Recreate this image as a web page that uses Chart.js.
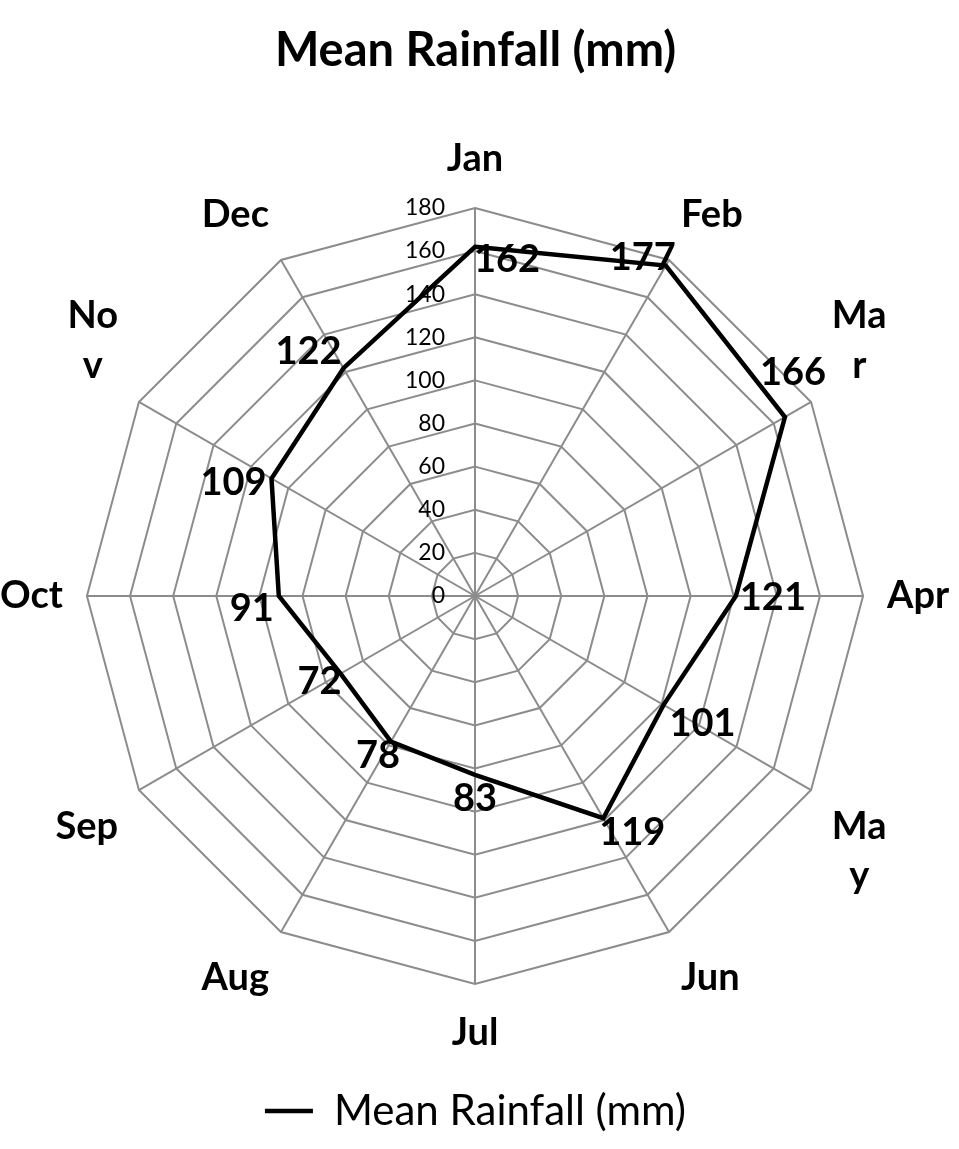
<!DOCTYPE html>
<html>
<head>
<meta charset="utf-8">
<script src="https://cdn.jsdelivr.net/npm/chart.js@4.4.1/dist/chart.umd.min.js"></script>
<style>
  html, body { margin: 0; padding: 0; background: #ffffff; }
  #wrap { width: 959px; height: 1149px; position: relative; }
</style>
</head>
<body>
<div id="wrap"><canvas id="c" width="959" height="1149"></canvas></div>
<script>
// ---- data ----
const categories = ['Jan', 'Feb', ['Ma', 'r'], 'Apr', ['Ma', 'y'], 'Jun', 'Jul', 'Aug', 'Sep', 'Oct', ['No', 'v'], 'Dec'];
const rainfall = [162, 177, 166, 121, 101, 119, 83, 78, 72, 91, 109, 122];
const tickValues = [0, 20, 40, 60, 80, 100, 120, 140, 160, 180];
const seriesName = 'Mean Rainfall (mm)';
const chartTitle = 'Mean Rainfall (mm)';

// label placement offsets (style, relative to each point)
const labelDX = [32, -23, 8, 37, 39, 29, 0, -13, -21, -27, -38, -35];
const labelDY = [13, -8, -44, 2, 19, 15, 24, 14, 8, 13, 4, -16];

const FONT = 'Lato, "Open Sans", sans-serif';
const PL_SIZE = 38;
const PL_LH = 1.3;

const dataLabelPlugin = {
  id: 'dataLabels',
  afterDatasetsDraw(chart) {
    const ctx = chart.ctx;
    const meta = chart.getDatasetMeta(0);
    ctx.save();
    ctx.font = 'bold 38px ' + FONT;
    ctx.fillStyle = '#000';
    ctx.textAlign = 'center';
    ctx.textBaseline = 'middle';
    meta.data.forEach((pt, i) => {
      ctx.fillText(String(rainfall[i]), pt.x + labelDX[i], pt.y + labelDY[i]);
    });
    ctx.restore();
  }
};

// draws tick values left of the vertical axis, and centred point labels
const textPlugin = {
  id: 'texts',
  afterDraw(chart) {
    const s = chart.scales.r;
    const ctx = chart.ctx;
    ctx.save();
    ctx.font = '23px ' + FONT;
    ctx.fillStyle = '#000';
    ctx.textAlign = 'right';
    ctx.textBaseline = 'middle';
    tickValues.forEach(v => {
      const d = s.getDistanceFromCenterForValue(v);
      ctx.fillText(String(v), s.xCenter - 30, s.yCenter - d);
    });
    ctx.font = 'bold ' + PL_SIZE + 'px ' + FONT;
    ctx.textAlign = 'center';
    ctx.textBaseline = 'middle';
    const lh = PL_SIZE * PL_LH;
    categories.forEach((c, i) => {
      const p = s.getPointLabelPosition(i);
      const lines = Array.isArray(c) ? c : [c];
      const cx = (p.left + p.right) / 2;
      lines.forEach((t, j) => {
        ctx.fillText(t, cx, p.top + lh * (j + 0.5));
      });
    });
    ctx.restore();
  }
};

new Chart(document.getElementById('c'), {
  type: 'radar',
  data: {
    labels: categories,
    datasets: [{
      label: seriesName,
      data: rainfall,
      borderColor: '#000000',
      backgroundColor: 'rgba(0,0,0,0)',
      borderWidth: 4.5,
      pointRadius: 0,
      pointHoverRadius: 0,
      fill: false,
      tension: 0
    }]
  },
  options: {
    responsive: false,
    animation: false,
    events: [],
    layout: { padding: { top: 0, bottom: 7, left: 0, right: 8 } },
    plugins: {
      title: {
        display: true,
        text: chartTitle,
        color: '#000',
        font: { family: FONT, size: 47, weight: 'bold' },
        padding: { top: 23, bottom: 50 }
      },
      legend: {
        display: true,
        position: 'bottom',
        labels: {
          color: '#000',
          font: { family: FONT, size: 42 },
          usePointStyle: true,
          pointStyle: 'line',
          pointStyleWidth: 48,
          boxWidth: 48,
          boxHeight: 3,
          padding: 27
        }
      },
      tooltip: { enabled: false }
    },
    scales: {
      r: {
        min: 0,
        max: 180,
        beginAtZero: true,
        ticks: { stepSize: 20, display: false },
        grid: { color: '#8c8c8c', lineWidth: 2 },
        angleLines: { color: '#8c8c8c', lineWidth: 2 },
        pointLabels: {
          color: 'rgba(0,0,0,0)',
          padding: 24,
          font: { family: FONT, size: PL_SIZE, weight: 'bold', lineHeight: PL_LH }
        }
      }
    }
  },
  plugins: [dataLabelPlugin, textPlugin]
});
</script>
</body>
</html>
